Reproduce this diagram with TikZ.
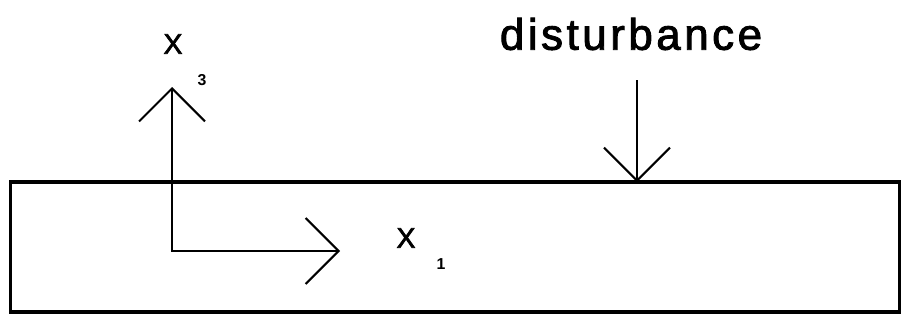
\documentclass[tikz,border=0pt]{standalone}
\usepackage{fontspec}
\setmainfont{Liberation Sans}
\usetikzlibrary{arrows.meta,positioning}

\begin{document}
\begin{tikzpicture}[
  x=0.02cm, y=-0.02cm,
  >={Straight Barb[length=6.6mm, width=13.2mm]},
  lbl/.style={inner sep=0pt, font=\fontsize{16}{18}\selectfont\addfontfeature{FakeBold=2.5}},
  sub/.style={inner sep=0pt, font=\fontsize{9}{10}\selectfont\bfseries},
  ttl/.style={inner sep=0pt, font=\fontsize{25}{28}\selectfont\addfontfeature{LetterSpace=8,FakeBold=2}},
  axis/.style={line width=1.2pt},
  plate/.style={draw, line width=1.8pt, minimum width=17.8cm, minimum height=2.6cm,
                inner sep=0pt, outer sep=0pt},
]
  \useasboundingbox (0,0) rectangle (907,328);
  % plate
  \node[plate] (plate) at (455,247) {};
  % coordinate axes
  \coordinate (O) at (172,251);
  \coordinate (x3end) at (172,87);
  \coordinate (x1end) at (340,251);
  \draw[axis, <->] (x3end) -- (O) -- (x1end);
  \node[lbl] (x3lab) at (173,44) {X};
  \node[sub] (x3sub) at (202,80) {3};
  \node[lbl] (x1lab) at (406,238) {X};
  \node[sub] (x1sub) at (441,264) {1};
  % disturbance
  \node[ttl] (dist) at (631,34) {disturbance};
  \coordinate (dtop) at (637,80);
  \draw[axis, ->] (dtop) -- (dtop |- plate.north);
\end{tikzpicture}
\end{document}
